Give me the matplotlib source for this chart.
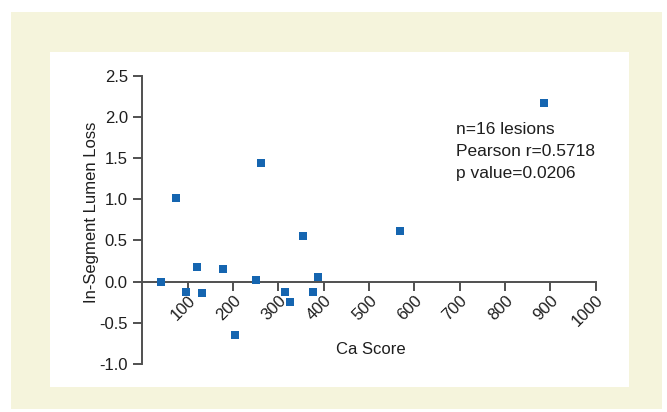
import matplotlib.pyplot as plt
from matplotlib.patches import Rectangle

# data
ca_score = [42, 75, 96, 120, 131, 178, 205, 250, 262, 314, 326, 355, 377, 388, 569, 887]
lumen_loss = [0.00, 1.02, -0.13, 0.18, -0.14, 0.15, -0.65, 0.02, 1.44, -0.12,
              -0.25, 0.55, -0.13, 0.06, 0.61, 2.17]
x_ticks = [100, 200, 300, 400, 500, 600, 700, 800, 900, 1000]
y_ticks = [-1.0, -0.5, 0.0, 0.5, 1.0, 1.5, 2.0, 2.5]
stats_lines = ["n=16 lesions", "Pearson r=0.5718", "p value=0.0206"]

W, H = 667, 412
plt.rcParams["font.family"] = ["Liberation Sans", "DejaVu Sans"]

fig = plt.figure(figsize=(W / 100, H / 100), dpi=100)
fig.patch.set_facecolor("white")

# cream frame and white inner panel (behind the axes)
fig.patches.append(Rectangle((11 / W, 1 - 409 / H), 651 / W, 397 / H,
                             transform=fig.transFigure, facecolor="#f5f4dc",
                             edgecolor="none", zorder=-2))
fig.patches.append(Rectangle((50 / W, 1 - 387 / H), 579 / W, 335 / H,
                             transform=fig.transFigure, facecolor="white",
                             edgecolor="none", zorder=-1))

ax = fig.add_axes([142.4 / W, 1 - 364 / H, 453.3 / W, 288.3 / H])
ax.patch.set_alpha(0)

ax.scatter(ca_score, lumen_loss, marker="s", s=26, color="#1565b0",
           linewidths=0, zorder=3)

ax.set_xlim(0, 1000)
ax.set_ylim(-1.0, 2.5)

# axis styling
for side in ["top", "right"]:
    ax.spines[side].set_visible(False)
ax.spines["bottom"].set_position(("data", 0))
for side in ["left", "bottom"]:
    ax.spines[side].set_color("#505050")
    ax.spines[side].set_linewidth(1.4)

ax.set_yticks(y_ticks)
ax.set_yticklabels([f"{v:.1f}" for v in y_ticks])
ax.set_xticks(x_ticks)
ax.set_xticklabels([str(v) for v in x_ticks])
ax.tick_params(axis="both", direction="out", length=6.5, width=1.4,
               color="#505050", labelsize=12, labelcolor="#1e1e1e")
ax.tick_params(axis="y", pad=4)
ax.tick_params(axis="x", pad=1.5)
for lbl in ax.get_xticklabels():
    lbl.set_rotation(45)
    lbl.set_rotation_mode("anchor")
    lbl.set_ha("right")
    lbl.set_va("top")

ax.set_ylabel("In-Segment Lumen Loss", fontsize=12, color="#1e1e1e", va="center")
ax.yaxis.set_label_coords(-0.112, 0.527)
ax.set_xlabel("Ca Score", fontsize=12, color="#1e1e1e", va="center")
ax.xaxis.set_label_coords(0.504, 0.049)

# statistics annotation
for i, line in enumerate(stats_lines):
    ax.annotate(line, xy=(691, 1.789), xytext=(0, -15.6 * i),
                textcoords="offset points", fontsize=12.5, color="#1e1e1e",
                ha="left", va="baseline")

fig.savefig("out.png", dpi=100)
